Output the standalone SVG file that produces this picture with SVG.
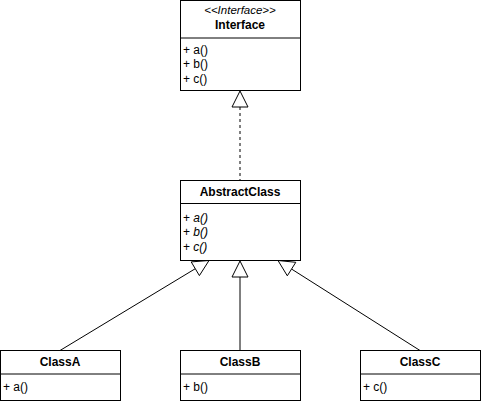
<svg xmlns="http://www.w3.org/2000/svg" width="481" height="401" viewBox="0 0 481 401">
<style>
.box{fill:#fff;stroke:#000;stroke-width:1}
.div{stroke:#000;stroke-width:1}
.t{font-family:"Liberation Sans",Arial,Helvetica,sans-serif;font-size:12px;fill:#000}
.c{text-anchor:middle}
.b{font-weight:bold}
.i{font-style:italic}
.edge{fill:none;stroke:#000;stroke-width:1}
.head{fill:#fff;stroke:#000;stroke-width:1}
</style>
<rect width="481" height="401" fill="#fff"/>
<g id="connectors">
  <line class="edge" x1="240" y1="107" x2="240" y2="180.5" stroke-dasharray="3 3"/>
  <polygon class="head" points="240,91 248,107 232,107"/>
  <line class="edge" x1="60" y1="350.5" x2="195.3" y2="268.7"/>
  <polygon class="head" points="209,260.5 199.4,275.6 191.2,261.9"/>
  <line class="edge" x1="240" y1="277" x2="240" y2="350.5"/>
  <polygon class="head" points="240,261 248,277 232,277"/>
  <line class="edge" x1="420" y1="350.5" x2="291.5" y2="269"/>
  <polygon class="head" points="278,260.5 287.3,275.8 295.8,262.3"/>
</g>
<g id="Interface">
  <rect class="box" x="180.5" y="0.5" width="120" height="90"/>
  <line class="div" x1="180.5" y1="38" x2="300.5" y2="38"/>
  <text class="t c i" x="240" y="13.5" style="font-size:11.5px">&lt;&lt;Interface&gt;&gt;</text>
  <text class="t c b" x="240" y="29">Interface</text>
  <text class="t" x="183" y="53.8">+ a()</text>
  <text class="t" x="183" y="68.2">+ b()</text>
  <text class="t" x="183" y="82.6">+ c()</text>
</g>
<g id="AbstractClass">
  <rect class="box" x="180.5" y="180.5" width="120" height="80"/>
  <line class="div" x1="180.5" y1="203.5" x2="300.5" y2="203.5"/>
  <text class="t c b" x="240" y="195.5">AbstractClass</text>
  <text class="t" x="183" y="221.7">+ <tspan class="i">a()</tspan></text>
  <text class="t" x="183" y="236.1">+ <tspan class="i">b()</tspan></text>
  <text class="t" x="183" y="250.5">+ <tspan class="i">c()</tspan></text>
</g>
<g id="ClassA">
  <rect class="box" x="0.5" y="350.5" width="120" height="50"/>
  <line class="div" x1="0.5" y1="374" x2="120.5" y2="374"/>
  <text class="t c b" x="60" y="366.3">ClassA</text>
  <text class="t" x="3" y="391.3">+ a()</text>
</g>
<g id="ClassB">
  <rect class="box" x="180.5" y="350.5" width="120" height="50"/>
  <line class="div" x1="180.5" y1="374" x2="300.5" y2="374"/>
  <text class="t c b" x="240" y="366.3">ClassB</text>
  <text class="t" x="183" y="391.3">+ b()</text>
</g>
<g id="ClassC">
  <rect class="box" x="360.5" y="350.5" width="120" height="50"/>
  <line class="div" x1="360.5" y1="374" x2="480.5" y2="374"/>
  <text class="t c b" x="420" y="366.3">ClassC</text>
  <text class="t" x="363" y="391.3">+ c()</text>
</g>
</svg>
